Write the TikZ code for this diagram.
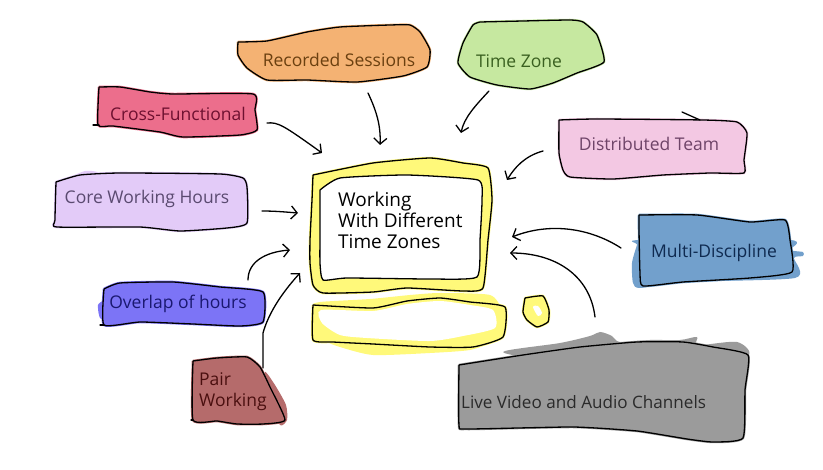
\documentclass[tikz,border=0pt]{standalone}
\usepackage{fontspec}
\setmainfont{Open Sans}
\usetikzlibrary{arrows.meta}
\definecolor{cRec}{HTML}{F4B273}\definecolor{tRec}{HTML}{6B4010}
\definecolor{cCro}{HTML}{EC6E8C}\definecolor{tCro}{HTML}{6E1030}
\definecolor{cCor}{HTML}{E3CBF8}\definecolor{tCor}{HTML}{5A4A70}
\definecolor{cOve}{HTML}{7C74F6}\definecolor{tOve}{HTML}{1A1870}
\definecolor{cPai}{HTML}{B56B6B}\definecolor{tPai}{HTML}{4A0F0F}
\definecolor{cTim}{HTML}{C6E8A0}\definecolor{tTim}{HTML}{3A6020}
\definecolor{cDis}{HTML}{F3C8E3}\definecolor{tDis}{HTML}{6E4468}
\definecolor{cMul}{HTML}{72A0CC}\definecolor{tMul}{HTML}{0F2A50}
\definecolor{cLiv}{HTML}{9B9B9B}\definecolor{tLiv}{HTML}{2A2A2A}
\definecolor{cYel}{HTML}{FFF97A}
\newcommand{\sketch}[2]{%
  \filldraw[draw=#1,fill=#1,line width=2.5pt,line join=round] plot[smooth,tension=.3] coordinates{#2};
  \draw[ink] plot[smooth,tension=.3] coordinates{#2};}
\tikzset{
  ink/.style={draw=black,line width=1.3pt,line cap=round,line join=round},
  link/.style={draw=black,line width=1.3pt,line cap=round,line join=round,
    -{Straight Barb[length=6pt,width=13pt,line width=1.3pt]}},
  label/.style={font=\fontsize{17.5}{21}\selectfont,inner sep=0pt},
}
\begin{document}
\begin{tikzpicture}[x=1pt,y=-1pt]
\useasboundingbox (0,0) rectangle (823,470);
% washes that stick out of the outlines
\fill[cLiv] plot[smooth cycle,tension=.5] coordinates{(503,352)(560,343)(590,336)(600,332)(612,336)(620,342)(650,340)(680,340)(697,337)(698,345)(737,342)(748,355)(700,360)(560,360)};
\fill[cMul] plot[smooth cycle,tension=.4] coordinates{(637,245)(632,263)(633,283)(640,288)(680,282)(795,278)(794,258)(803,256)(803,252)(790,250)(790,240)(640,240)};
\fill[cOve] plot[smooth cycle,tension=.4] coordinates{(104,300)(98,305)(100,318)(110,320)(110,295)};
\fill[cPai] plot[smooth cycle,tension=.4] coordinates{(265,372)(275,385)(286,405)(287,420)(280,425)(270,400)};
\fill[cCor] plot[smooth cycle,tension=.4] coordinates{(70,178)(85,171)(97,172)(100,178)};
\fill[cYel] plot[smooth cycle,tension=.4] coordinates{(320,306)(320,302)(370,299)(410,295)(440,293)(490,295)(502,310)(503,320)(440,310)};
\fill[cYel] plot[smooth cycle,tension=.4] coordinates{(330,342)(380,343)(440,346)(490,342)(470,350)(430,353)(373,355)(340,347)};
% boxes
\sketch{cRec}{(238,42)(267,41)(307,32)(340,27)(390,25)(410,25)(420,32)(430,50)(427,67)(403,76)(357,82)(307,80)(267,80)(247,68)(238,55)(238,42)}
\sketch{cCro}{(99,87)(120,87)(150,92)(173,94)(253,94)(255,110)(257,130)(240,135)(183,137)(160,132)(113,126)(98,125)(99,87)}
\draw[ink] (93,125) -- (99,125);
\sketch{cCor}{(56,182)(80,175)(120,173)(220,174)(243,178)(247,187)(247,223)(227,228)(180,231)(140,227)(57,227)(55,220)(56,182)}
\sketch{cOve}{(104,289)(120,283)(173,282)(220,287)(263,292)(263,322)(240,326)(193,324)(140,322)(104,325)(104,289)}
\draw[ink] (100,325) -- (104,325);
\sketch{cPai}{(193,361)(217,358)(247,357)(260,367)(270,387)(285,420)(263,424)(237,424)(217,421)(193,420)(193,361)}
\draw[ink] (191,420) -- (193,420);
\sketch{cTim}{(480,22)(523,21)(570,20)(583,22)(597,35)(604,62)(577,73)(553,83)(530,89)(497,85)(470,77)(458,63)(463,43)(473,25)(480,22)}
\sketch{cDis}{(559,120)(597,119)(703,120)(737,122)(747,133)(744,160)(744,173)(710,173)(663,175)(613,179)(570,177)(563,170)(559,153)(559,120)}
\draw[ink] (682,112) -- (700,120);
\sketch{cMul}{(639,215)(697,215)(750,222)(785,220)(790,240)(792,272)(750,278)(683,282)(643,286)(640,273)(639,230)(639,215)}
\sketch{cLiv}{(459,365)(523,355)(580,347)(637,342)(683,342)(713,347)(748,355)(745,390)(743,438)(713,442)(687,439)(637,431)(573,427)(467,429)(459,425)(459,365)}
% computer
\sketch{cYel}{(313,175)(373,163)(430,158)(463,163)(488,168)(492,200)(488,240)(483,288)(463,291)(407,288)(373,292)(323,293)(313,285)(310,263)(310,240)(312,200)(313,175)}
\filldraw[ink,fill=white] plot[smooth,tension=.3] coordinates{(320,190)(340,178)(407,175)(478,180)(482,200)(480,240)(477,277)(430,279)(347,278)(323,280)(320,263)(320,230)(320,190)};
\sketch{cYel}{(313,305)(373,308)(407,301)(440,298)(470,302)(505,307)(503,337)(473,347)(430,347)(373,344)(333,342)(313,340)(313,305)}
\fill[white] plot[smooth cycle,tension=.4] coordinates{(321,310)(373,311)(407,304)(440,301)(470,305)(493,310)(495,328)(463,336)(430,341)(367,338)(340,335)(322,323)};
\sketch{cYel}{(525,298)(543,296)(549,310)(548,322)(537,327)(527,320)(523,312)(525,298)}
\fill[white] plot[smooth cycle] coordinates{(533,307)(538,306)(542,313)(538,316)};
% labels
\node[label,text=tRec] (rec) at (339,60) {Recorded Sessions};
\node[label,text=tCro] (cro) at (178,114) {Cross-Functional};
\node[label,text=tCor] (cor) at (147,199) {Core Working Hours};
\node[label,text=tOve] (ove) at (178,304) {Overlap of hours};
\node[label,text=tPai,align=left,anchor=west] (pai) at (199,392) {Pair\\Working};
\node[label,text=tTim] (tim) at (519,61) {Time Zone};
\node[label,text=tDis] (dis) at (649,144) {Distributed Team};
\node[label,text=tMul] (mul) at (714,253) {Multi-Discipline};
\node[label,text=tLiv,anchor=west,font=\fontsize{17.1}{21}\selectfont] (liv) at (461,402) {Live Video and Audio Channels};
\node[label,text=black,align=left,anchor=west,font=\fontsize{19}{21}\selectfont] (mon) at (338,220) {Working\\With Different\\Time Zones};
% connector ends
\coordinate (aRec) at (368,93); \coordinate (bRec) at (380,145);
\coordinate (aCro) at (267,123); \coordinate (bCro) at (322,153);
\coordinate (aCor) at (262,211); \coordinate (bCor) at (298,213);
\coordinate (aOve) at (248,280); \coordinate (bOve) at (290,250);
\coordinate (aPai) at (263,368); \coordinate (bPai) at (300,273);
\coordinate (aTim) at (489,91); \coordinate (bTim) at (461,133);
\coordinate (aDis) at (543,151); \coordinate (bDis) at (507,180);
\coordinate (aMul) at (621,248); \coordinate (bMul) at (512,237);
\coordinate (aLiv) at (595,317); \coordinate (bLiv) at (510,253);
\draw[link] (aRec) .. controls (376,110) and (381,125) .. (bRec);
\draw[link] (aCro) .. controls (278,122) and (283,125) .. (bCro);
\draw[link] (aCor) .. controls (275,211) and (285,212) .. (bCor);
\draw[link] (aOve) .. controls (248,262) and (265,252) .. (bOve);
\draw[link] (aPai) -- (263,333) .. controls (268,315) and (280,295) .. (bPai);
\draw[link] (aTim) .. controls (475,106) and (464,118) .. (bTim);
\draw[link] (aDis) .. controls (525,156) and (515,167) .. (bDis);
\draw[link] (aMul) .. controls (590,228) and (550,222) .. (bMul);
\draw[link] (aLiv) .. controls (590,275) and (555,253) .. (bLiv);
\end{tikzpicture}
\end{document}
